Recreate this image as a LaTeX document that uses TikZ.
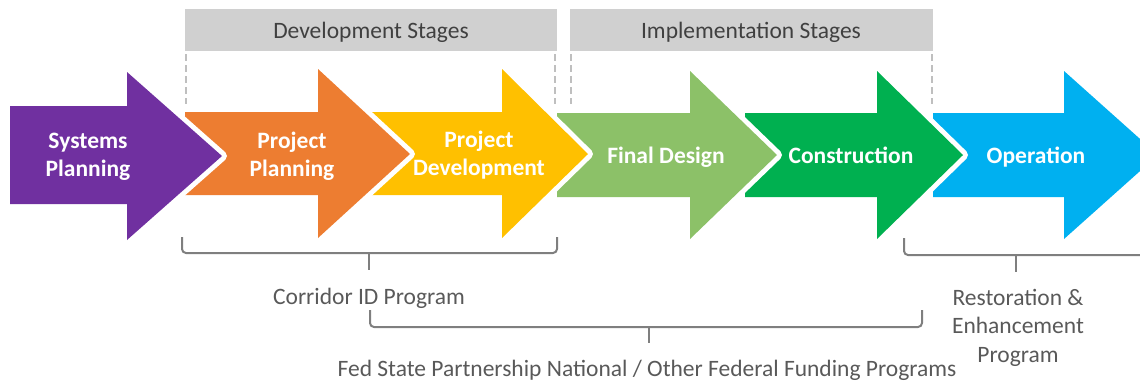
\documentclass[tikz,border=0pt]{standalone}
\usepackage{fontspec}
\setmainfont{Carlito}
\definecolor{cpurple}{HTML}{7030A0}
\definecolor{corange}{HTML}{ED7D31}
\definecolor{cyellow}{HTML}{FFC000}
\definecolor{clgreen}{HTML}{8CC168}
\definecolor{cdgreen}{HTML}{00B050}
\definecolor{cblue}{HTML}{00B0F0}
\definecolor{boxgray}{HTML}{D0D0D0}
\definecolor{hdrtext}{HTML}{404040}
\definecolor{progtext}{HTML}{595959}
\definecolor{bracegray}{HTML}{7F7F7F}
\definecolor{dashgray}{HTML}{BFBFBF}
% #1 left, #2 body top, #3 body bottom, #4 head x, #5 head top, #6 head bottom, #7 tip x, #8 tip y, #9 colour
\newcommand\stgarrow[9]{%
  \draw[white,line width=10pt,line join=round] (#1,#2) -- (#4,#2) -- (#4,#5) -- (#7,#8) -- (#4,#6) -- (#4,#3) -- (#1,#3) -- cycle;
  \fill[#9] (#1,#2) -- (#4,#2) -- (#4,#5) -- (#7,#8) -- (#4,#6) -- (#4,#3) -- (#1,#3) -- cycle;}
\begin{document}
\begin{tikzpicture}[x=1pt,y=-1pt,
  lbl/.style={text=white,font=\fontsize{23.5}{28}\selectfont\bfseries,align=center,anchor=base,inner sep=0pt},
  hdr/.style={text=hdrtext,font=\fontsize{23.5}{28}\selectfont,anchor=base,inner sep=0pt},
  prog/.style={text=progtext,font=\fontsize{23.5}{28.5}\selectfont,align=center,anchor=base,inner sep=0pt},
  hbox/.style={fill=boxgray,inner sep=0pt,minimum height=42pt},
  brace/.style={draw=bracegray,line width=2pt,rounded corners=4pt},
  guide/.style={draw=dashgray,line width=1.6pt,dash pattern=on 7pt off 4pt}]
\useasboundingbox (0,0) rectangle (1140,381);

% stage arrows, drawn right to left so each overlaps the next one's tail
\stgarrow{933}{113}{197}{1064}{71}{239}{1158}{155}{cblue}
\stgarrow{745}{113}{197}{877}{71}{239}{963}{155}{cdgreen}
\stgarrow{557}{113}{197}{690}{71}{239}{777}{155}{clgreen}
\stgarrow{370}{112}{195}{502}{69}{238}{588}{154}{cyellow}
\stgarrow{185}{112}{195}{318}{69}{238}{410}{154}{corange}
\stgarrow{10}{106}{204}{127}{72}{240}{222}{156}{cpurple}

% arrow labels (base anchor = last line's baseline)
\node[lbl] (sysplan) at (88,176) {Systems\\Planning};
\node[lbl] (projplan) at (292,176) {Project\\Planning};
\node[lbl] (projdev) at (479,175) {Project\\Development};
\node[lbl] (findes) at (666,163) {Final Design};
\node[lbl] (constr) at (851,163) {Construction};
\node[lbl] (oper) at (1036,163) {Operation};

% header boxes
\node[hbox,minimum width=372pt] (devbox) at (371,30) {};
\node[hbox,minimum width=363pt] (impbox) at (751.5,30) {};
\node[hdr] (devtxt) at (371,38) {Development Stages};
\node[hdr] (imptxt) at (751,38) {Implementation Stages};

% dashed guides
\draw[guide] ([xshift=1pt,yshift=-3pt]devbox.south west) -- ++(0,50);
\draw[guide] ([xshift=-2pt,yshift=-3pt]devbox.south east) -- ++(0,50);
\draw[guide] ([xshift=1pt,yshift=-3pt]impbox.south west) -- ++(0,50);
\draw[guide] ([xshift=-1pt,yshift=-3pt]impbox.south east) -- ++(0,50);

% braces
\draw[brace] (182,237) |- (369,253) -| (557,237);
\draw[brace] (369,252) -- (369,270);
\draw[brace] (370,310) |- (649,327) -| (922,310);
\draw[brace] (649,326) -- (649,343);
\draw[brace] (904,238) |- (1016,255) -- (1150,255);
\draw[brace] (1016,254) -- (1016,272);

% programme labels
\node[prog] (corr) at (369,304) {Corridor ID Program};
\node[prog] (fsp) at (647,376) {Fed State Partnership National / Other Federal Funding Programs};
\node[prog] (rest) at (1018,362) {Restoration \&\\Enhancement\\Program};
\end{tikzpicture}
\end{document}
